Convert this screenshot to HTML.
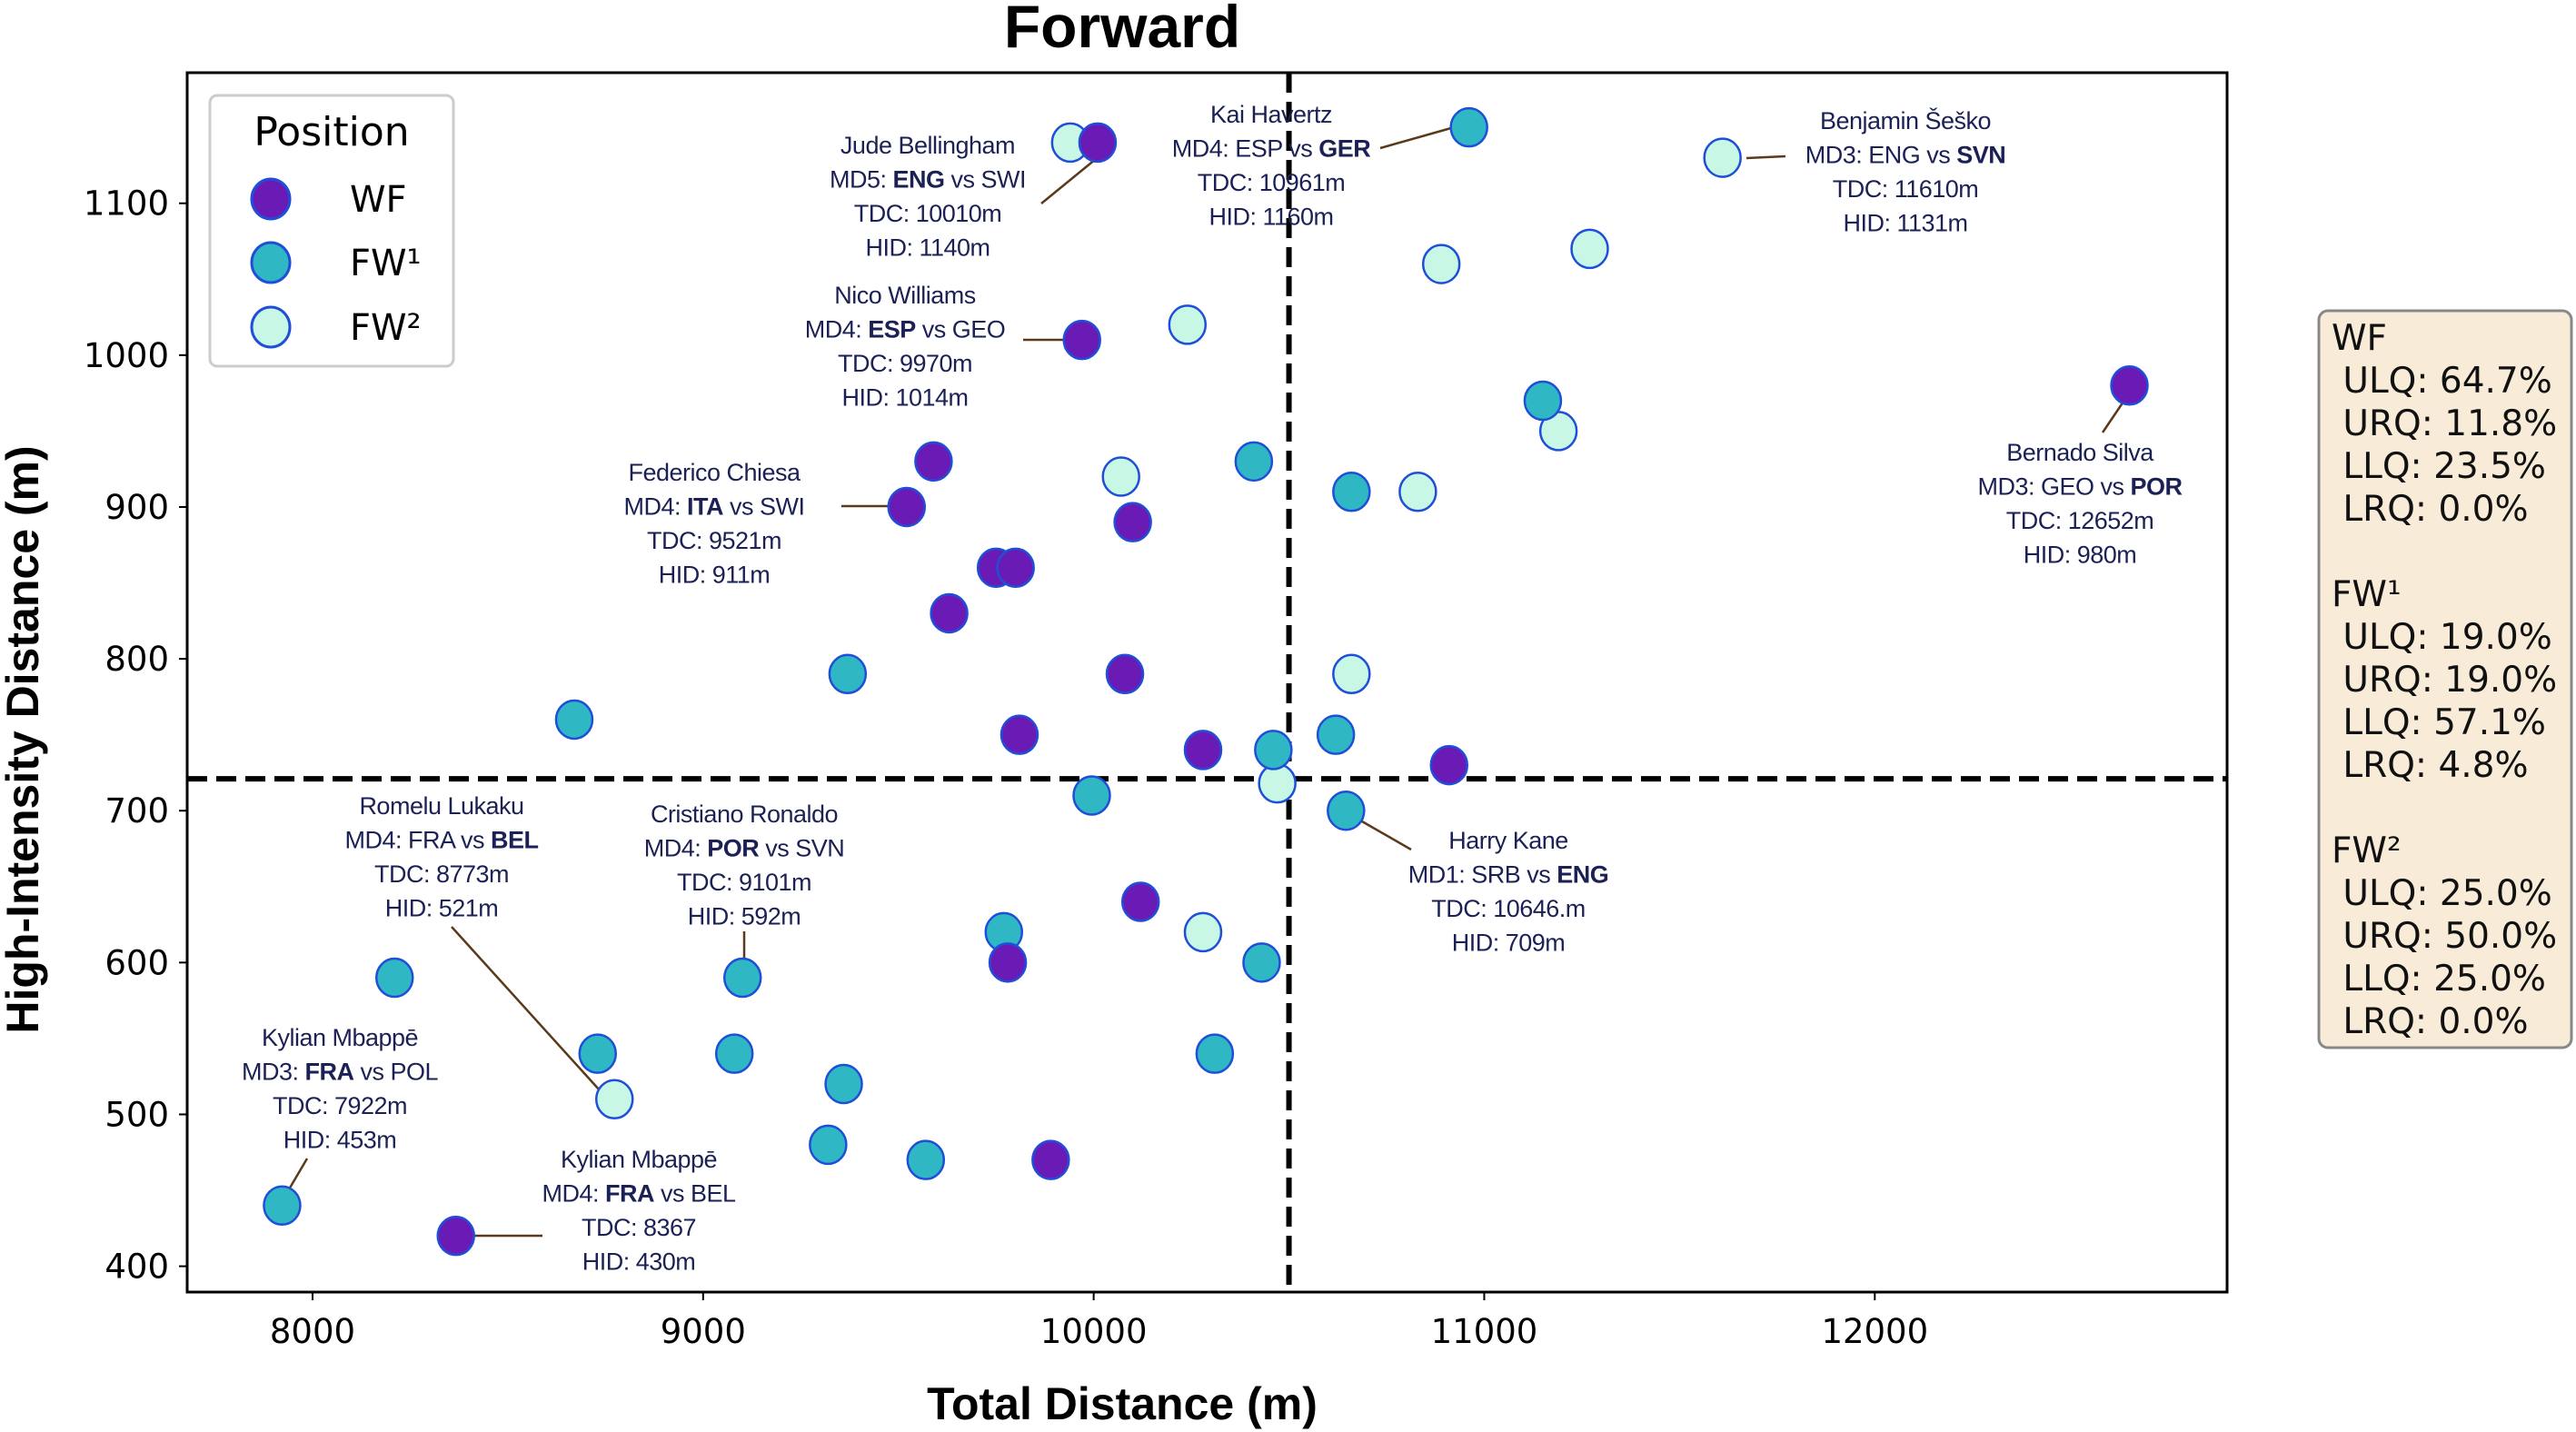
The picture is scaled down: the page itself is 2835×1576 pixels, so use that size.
<!DOCTYPE html>
<html><head><meta charset="utf-8"><style>
html,body{margin:0;padding:0;background:#fff;}
svg{display:block;}
.tick{font-family:"DejaVu Sans",sans-serif;font-size:37px;fill:#000;}
.ann{font-family:"Liberation Sans",sans-serif;font-size:27px;fill:#1b2155;letter-spacing:-0.5px;}
.stat{font-family:"DejaVu Sans",sans-serif;font-size:39px;fill:#111;}
</style></head><body>
<svg id="chart" width="2835" height="1576" viewBox="0 0 2835 1576" xmlns="http://www.w3.org/2000/svg">
<text x="1235" y="52" text-anchor="middle" font-family="Liberation Sans,sans-serif" font-weight="bold" font-size="66">Forward</text>
<text transform="translate(42,814) rotate(-90)" text-anchor="middle" font-family="Liberation Sans,sans-serif" font-weight="bold" font-size="50">High-Intensity Distance (m)</text>
<text x="1235" y="1562" text-anchor="middle" font-family="Liberation Sans,sans-serif" font-weight="bold" font-size="50">Total Distance (m)</text>
<g id="ticks"></g>
<g id="refs"></g>
<g id="conn"></g>
<g id="pts"></g>
<rect x="206" y="80" width="2245" height="1342" fill="none" stroke="#000" stroke-width="3"/>
<g id="anns"></g>
<g>
<rect x="231" y="105" width="268" height="298" rx="8" fill="#fff" stroke="#ccc" stroke-width="3"/>
<text x="365" y="160" text-anchor="middle" font-family="DejaVu Sans,sans-serif" font-size="44">Position</text>
<ellipse cx="298" cy="219" rx="21" ry="22" fill="#6a1bb5" stroke="#1f4fd8" stroke-width="3"/>
<text x="385" y="233" font-family="DejaVu Sans,sans-serif" font-size="40">WF</text>
<ellipse cx="298" cy="289" rx="21" ry="22" fill="#2fb8c4" stroke="#1f4fd8" stroke-width="3"/>
<text x="385" y="303" font-family="DejaVu Sans,sans-serif" font-size="40">FW¹</text>
<ellipse cx="298" cy="360" rx="21" ry="22" fill="#c9f7e6" stroke="#1f4fd8" stroke-width="3"/>
<text x="385" y="374" font-family="DejaVu Sans,sans-serif" font-size="40">FW²</text>
</g>
<g>
<rect x="2552" y="342" width="278" height="811" rx="10" fill="#f8ecd8" stroke="#888" stroke-width="3"/>
<g id="stats"></g>
</g>
</svg>
<script>
const xTicks=[8000,9000,10000,11000,12000];
const yTicks=[400,500,600,700,800,900,1000,1100];
const xDomain=[7679,12902];
const yDomain=[383,1186];
const xSplit=10500;
const ySplit=721;
const wfX=[10010,9970,9590,9521,9750,9800,10100,9630,10080,9810,10280,10910,12652,10120,9780,9890,8367];
const wfY=[1140,1010,930,900,860,860,890,830,790,750,740,730,980,640,600,470,420];
const fw1X=[10961,8670,9370,10410,10660,11150,10620,10460,9995,10646,8210,9101,9770,10430,8730,9080,10310,9360,9320,9570,7922];
const fw1Y=[1150,760,790,930,910,970,750,740,710,700,590,590,620,600,540,540,540,520,480,470,440];
const fw2X=[9940,10240,10070,11610,10890,11270,11190,10830,10660,10470,10280,8773];
const fw2Y=[1140,1020,920,1130,1060,1070,950,910,790,718,620,510];
const statLines=["WF"," ULQ: 64.7%"," URQ: 11.8%"," LLQ: 23.5%"," LRQ: 0.0%",""," FW¹"," ULQ: 19.0%"," URQ: 19.0%"," LLQ: 57.1%"," LRQ: 4.8%",""," FW²"," ULQ: 25.0%"," URQ: 50.0%"," LLQ: 25.0%"," LRQ: 0.0%"];
const PL=206,PR=2451,PT=80,PB=1422;
const NS="http://www.w3.org/2000/svg";
function sx(v){return PL+(v-xDomain[0])/(xDomain[1]-xDomain[0])*(PR-PL);}
function sy(v){return PB-(v-yDomain[0])/(yDomain[1]-yDomain[0])*(PB-PT);}
function mk(tag,attrs,parent){const e=document.createElementNS(NS,tag);for(const k in attrs)e.setAttribute(k,attrs[k]);parent.appendChild(e);return e;}
const ticks=document.getElementById('ticks');
xTicks.forEach(v=>{
 const l=mk('line',{x1:sx(v),x2:sx(v),y1:PB,y2:PB+9,stroke:'#000','stroke-width':2},ticks);
 
 
 const t=mk('text',{x:sx(v),y:PB+56,'text-anchor':'middle',class:'tick'},ticks);t.textContent=v;
 
 
});
yTicks.forEach(v=>{
 const l=mk('line',{x1:PL-9,x2:PL,y1:sy(v),y2:sy(v),stroke:'#000','stroke-width':2},ticks);
 
 
 const t=mk('text',{x:PL-20,y:sy(v)+13,'text-anchor':'end',class:'tick'},ticks);t.textContent=v;
 
 
});
const refs=document.getElementById('refs');
const vl=mk('line',{x1:sx(xSplit),x2:sx(xSplit),y1:PT,y2:PB,stroke:'#000','stroke-width':6,'stroke-dasharray':'22,10'},refs);


const hl=mk('line',{x1:PL,x2:PR,y1:sy(ySplit),y2:sy(ySplit),stroke:'#000','stroke-width':6,'stroke-dasharray':'22,10'},refs);


const pts=document.getElementById('pts');
function series(xs,ys,fill,name){xs.forEach((x,i)=>{
 const c=mk('ellipse',{cx:sx(x),cy:sy(ys[i]),rx:20,ry:21,fill:fill,stroke:'#1f4fd8','stroke-width':2.5},pts);
 
 
});}
series(fw2X,fw2Y,'#c9f7e6','fw2-point');
series(fw1X,fw1Y,'#2fb8c4','fw1-point');
series(wfX,wfY,'#6a1bb5','wf-point');
const conn=document.getElementById('conn');
[[1146,224,1206,175],[1519,163,1604,139],[1922,174,1965,172],[1126,374,1175,374],[926,557,982,557],[2314,476,2341,436],[497,1020,660,1200],[819,1025,819,1056],[1499,904,1553,935],[338,1275,318,1309],[519,1360,597,1360]].forEach(a=>{
 const l=mk('line',{x1:a[0],y1:a[1],x2:a[2],y2:a[3],stroke:'#5a3a1a','stroke-width':2.5},conn);
 
 
});
const anns=[
[1021,159,["Jude Bellingham","MD5: <b>ENG</b> vs SWI","TDC: 10010m","HID: 1140m"]],
[1399,125,["Kai Havertz","MD4: ESP vs <b>GER</b>","TDC: 10961m","HID: 1160m"]],
[2097,132,["Benjamin Šeško","MD3: ENG vs <b>SVN</b>","TDC: 11610m","HID: 1131m"]],
[996,324,["Nico Williams","MD4: <b>ESP</b> vs GEO","TDC: 9970m","HID: 1014m"]],
[786,519,["Federico Chiesa","MD4: <b>ITA</b> vs SWI","TDC: 9521m","HID: 911m"]],
[2289,497,["Bernado Silva","MD3: GEO vs <b>POR</b>","TDC: 12652m","HID: 980m"]],
[486,886,["Romelu Lukaku","MD4: FRA vs <b>BEL</b>","TDC: 8773m","HID:  521m"]],
[819,895,["Cristiano Ronaldo","MD4: <b>POR</b> vs SVN","TDC: 9101m","HID:  592m"]],
[1660,924,["Harry Kane","MD1: SRB vs <b>ENG</b>","TDC: 10646.m","HID: 709m"]],
[374,1141,["Kylian Mbappē","MD3: <b>FRA</b> vs POL","TDC: 7922m","HID: 453m"]],
[703,1275,["Kylian Mbappē","MD4: <b>FRA</b> vs BEL","TDC: 8367","HID: 430m"]]];
const ag=document.getElementById('anns');
anns.forEach(a=>{
 a[2].forEach((s,i)=>{
  const t=mk('text',{x:a[0],y:a[1]+i*37.5+10,'text-anchor':'middle',class:'ann'},ag);
  t.innerHTML=s.replace(/<b>/g,'<tspan font-weight="bold">').replace(/<\/b>/g,'</tspan>');
  
  
 });
});
const st=document.getElementById('stats');
statLines.forEach((s,i)=>{
 if(!s)return;
 const t=mk('text',{x:2566,y:385+i*47,class:'stat','xml:space':'preserve'},st);
 t.setAttribute('style','white-space:pre');
 t.textContent=s.startsWith(' FW')?s.trim():s;
 
 
});
</script>
</body></html>
